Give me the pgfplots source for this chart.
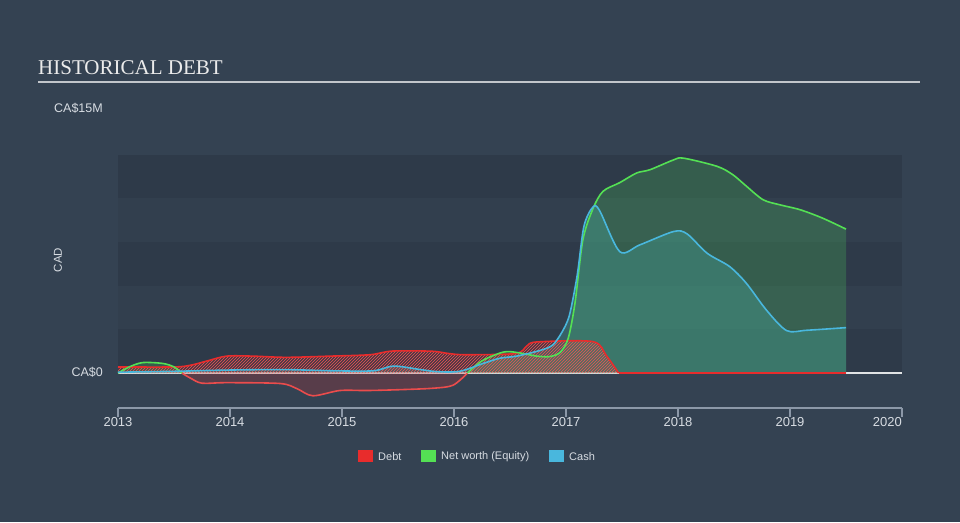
\documentclass[border=0pt]{standalone}
\usepackage{pgfplots}
\pgfplotsset{compat=1.18}
\usetikzlibrary{patterns}
\usepackage{fontspec}
\setmainfont{Liberation Sans}
\newfontfamily\titlefont{Liberation Serif}
\definecolor{bg}{RGB}{52,66,82}
\definecolor{banddark}{RGB}{46,58,73}
\definecolor{bandmid}{RGB}{50,63,78}
\definecolor{debtred}{RGB}{232,44,44}
\definecolor{eqgreen}{RGB}{84,224,84}
\definecolor{cashblue}{RGB}{73,183,221}
\definecolor{axiscol}{RGB}{140,152,168}
\definecolor{txt}{RGB}{215,220,226}
\definecolor{eqfill}{RGB}{75,200,90}
\definecolor{cashfill}{RGB}{70,160,150}
\begin{document}
\begin{tikzpicture}[x=1pt,y=1pt]
\fill[bg] (0,0) rectangle (960,-522);
\node[anchor=base west, inner sep=0, text=white!92!black, font=\titlefont\fontsize{21}{21}\selectfont] at (38,-74.5) {HISTORICAL DEBT};
\draw[white!70!bg, line width=1.5pt] (38,-82) -- (920,-82);
\node[anchor=east, inner sep=0, text=txt, font=\fontsize{12.5}{13}\selectfont] at (103,-108) {CA\$15M};
\node[anchor=east, inner sep=0, text=txt, font=\fontsize{12.5}{13}\selectfont] at (103,-372) {CA\$0};
\node[rotate=90, inner sep=0, text=txt, font=\fontsize{11.5}{12}\selectfont] at (58,-260) {CAD};
\begin{axis}[at={(118pt,-408pt)}, anchor=south west, scale only axis,
  width=784pt, height=297pt,
  xmin=2013, xmax=2020, ymin=-2, ymax=15,
  axis x line=bottom, axis y line=none,
  x axis line style={-, axiscol, line width=1.2pt},
  xtick={2013,2014,2015,2016,2017,2018,2019,2020},
  xticklabels={2013,2014,2015,2016,2017,2018,2019,{}},
  tick align=outside, major tick length=9pt,
  tick style={axiscol, line width=1.2pt},
  xticklabel style={inner sep=0pt, text=txt, font=\fontsize{13}{13}\selectfont},
  clip=false]
\fill[banddark] (axis cs:2013,0) rectangle (axis cs:2020,2.5);
\fill[bandmid] (axis cs:2013,2.5) rectangle (axis cs:2020,5);
\fill[banddark] (axis cs:2013,5) rectangle (axis cs:2020,7.5);
\fill[bandmid] (axis cs:2013,7.5) rectangle (axis cs:2020,10);
\fill[banddark] (axis cs:2013,10) rectangle (axis cs:2020,12.5);
\draw[white!85!bg, line width=1.5pt] (axis cs:2013,0) -- (axis cs:2020,0);
% equity positive fills
\addplot[draw=none, fill=eqfill, fill opacity=0.25, smooth, tension=0.5] coordinates {
(2013,0) (2013.1,0.35) (2013.22,0.6) (2013.4,0.55) (2013.5,0.35) (2013.57,0)} \closedcycle;
\addplot[draw=none, fill=eqfill, fill opacity=0.25, smooth, tension=0.5] coordinates {
(2016.12,0) (2016.25,0.7) (2016.44,1.2) (2016.56,1.18) (2016.74,0.97) (2016.86,0.95) (2016.95,1.2) (2017.02,2.0) (2017.08,4.0) (2017.15,7.6) (2017.24,9.4) (2017.33,10.4) (2017.48,10.9) (2017.63,11.45) (2017.75,11.64) (2017.96,12.2) (2018.05,12.3) (2018.35,11.83) (2018.49,11.35) (2018.61,10.7) (2018.76,9.92) (2018.91,9.63) (2019.09,9.35) (2019.29,8.87) (2019.5,8.24)} \closedcycle;
% cash fill
\addplot[draw=none, fill=cashfill, fill opacity=0.4, smooth, tension=0.5] coordinates {
(2013,0.05) (2013.5,0.1) (2013.97,0.17) (2014.47,0.2) (2014.92,0.13) (2015.28,0.13) (2015.46,0.4) (2015.7,0.2) (2015.85,0.08) (2016.05,0.1) (2016.26,0.55) (2016.41,0.85) (2016.56,0.97) (2016.77,1.3) (2016.88,1.6) (2016.96,2.3) (2017.03,3.3) (2017.1,5.6) (2017.16,8.4) (2017.24,9.5) (2017.3,9.3) (2017.48,6.95) (2017.66,7.34) (2017.96,8.1) (2018.08,7.97) (2018.26,6.86) (2018.46,6.1) (2018.61,5.14) (2018.79,3.6) (2018.97,2.43) (2019.15,2.45) (2019.5,2.6)} \closedcycle;
% negative equity fill
\addplot[draw=none, fill=debtred, fill opacity=0.2, smooth, tension=0.5] coordinates {
(2013.57,0) (2013.65,-0.3) (2013.75,-0.58) (2013.97,-0.55) (2014.45,-0.6) (2014.6,-0.9) (2014.74,-1.3) (2014.98,-1.0) (2015.22,-1.0) (2015.52,-0.95) (2015.81,-0.87) (2015.99,-0.7) (2016.12,0)} \closedcycle;
% debt hatch
\addplot[draw=none, fill=debtred, fill opacity=0.15, smooth, tension=0.5] coordinates {
(2013,0.35) (2013.5,0.35) (2013.65,0.45) (2013.8,0.7) (2013.97,0.97) (2014.2,0.97) (2014.5,0.9) (2014.9,0.97) (2015.25,1.05) (2015.45,1.26) (2015.8,1.25) (2015.95,1.12) (2016.1,1.05) (2016.55,1.12) (2016.65,1.55) (2016.74,1.78) (2017.24,1.8) (2017.36,1.0) (2017.47,0)} \closedcycle;
\addplot[draw=none, pattern=north east lines, pattern color=debtred!80!white, smooth, tension=0.5] coordinates {
(2013,0.35) (2013.5,0.35) (2013.65,0.45) (2013.8,0.7) (2013.97,0.97) (2014.2,0.97) (2014.5,0.9) (2014.9,0.97) (2015.25,1.05) (2015.45,1.26) (2015.8,1.25) (2015.95,1.12) (2016.1,1.05) (2016.55,1.12) (2016.65,1.55) (2016.74,1.78) (2017.24,1.8) (2017.36,1.0) (2017.47,0)} \closedcycle;
% lines
\addplot[debtred, line width=1.6pt, smooth, tension=0.5] coordinates {
(2013,0.35) (2013.5,0.35) (2013.65,0.45) (2013.8,0.7) (2013.97,0.97) (2014.2,0.97) (2014.5,0.9) (2014.9,0.97) (2015.25,1.05) (2015.45,1.26) (2015.8,1.25) (2015.95,1.12) (2016.1,1.05) (2016.55,1.12) (2016.65,1.55) (2016.74,1.78) (2017.24,1.8) (2017.36,1.0) (2017.47,0)};
\addplot[debtred, line width=1.6pt] coordinates {(2017.47,0) (2019.5,0)};
\addplot[debtred!85!white, line width=1.6pt, smooth, tension=0.5] coordinates {
(2013.57,0) (2013.65,-0.3) (2013.75,-0.58) (2013.97,-0.55) (2014.45,-0.6) (2014.6,-0.9) (2014.74,-1.3) (2014.98,-1.0) (2015.22,-1.0) (2015.52,-0.95) (2015.81,-0.87) (2015.99,-0.7) (2016.12,0)};
\addplot[eqgreen, line width=1.6pt, smooth, tension=0.5] coordinates {
(2013,0) (2013.1,0.35) (2013.22,0.6) (2013.4,0.55) (2013.5,0.35) (2013.57,0)};
\addplot[eqgreen, line width=1.6pt, smooth, tension=0.5] coordinates {
(2016.12,0) (2016.25,0.7) (2016.44,1.2) (2016.56,1.18) (2016.74,0.97) (2016.86,0.95) (2016.95,1.2) (2017.02,2.0) (2017.08,4.0) (2017.15,7.6) (2017.24,9.4) (2017.33,10.4) (2017.48,10.9) (2017.63,11.45) (2017.75,11.64) (2017.96,12.2) (2018.05,12.3) (2018.35,11.83) (2018.49,11.35) (2018.61,10.7) (2018.76,9.92) (2018.91,9.63) (2019.09,9.35) (2019.29,8.87) (2019.5,8.24)};
\addplot[cashblue, line width=1.6pt, smooth, tension=0.5] coordinates {
(2013,0.05) (2013.5,0.1) (2013.97,0.17) (2014.47,0.2) (2014.92,0.13) (2015.28,0.13) (2015.46,0.4) (2015.7,0.2) (2015.85,0.08) (2016.05,0.1) (2016.26,0.55) (2016.41,0.85) (2016.56,0.97) (2016.77,1.3) (2016.88,1.6) (2016.96,2.3) (2017.03,3.3) (2017.1,5.6) (2017.16,8.4) (2017.24,9.5) (2017.3,9.3) (2017.48,6.95) (2017.66,7.34) (2017.96,8.1) (2018.08,7.97) (2018.26,6.86) (2018.46,6.1) (2018.61,5.14) (2018.79,3.6) (2018.97,2.43) (2019.15,2.45) (2019.5,2.6)};
\node[anchor=north east, inner sep=0, text=txt, font=\fontsize{13}{13}\selectfont] at ([yshift=-9pt]axis cs:2020,-2) {2020};
\end{axis}
% legend
\fill[debtred] (358,-450) rectangle (373,-462);
\node[anchor=west, inner sep=0, text=txt, font=\fontsize{11}{11}\selectfont] at (378,-456.5) {Debt};
\fill[eqgreen] (421,-450) rectangle (436,-462);
\node[anchor=west, inner sep=0, text=txt, font=\fontsize{11}{11}\selectfont] at (441,-456.5) {Net worth (Equity)};
\fill[cashblue] (549,-450) rectangle (564,-462);
\node[anchor=west, inner sep=0, text=txt, font=\fontsize{11}{11}\selectfont] at (569,-456.5) {Cash};
\end{tikzpicture}
\end{document}
